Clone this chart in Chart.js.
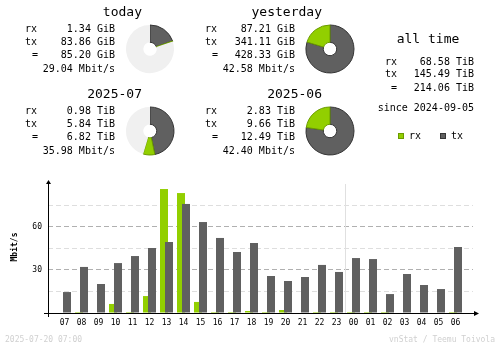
<!DOCTYPE html>
<html>
<head>
<meta charset="utf-8">
<script src="https://cdn.jsdelivr.net/npm/chart.js@4.4.0/dist/chart.umd.min.js"></script>
<style>
  body { margin: 0; background: #fff; }
  #wrap { position: relative; width: 500px; height: 348px; overflow: hidden;
          font-family: "DejaVu Sans Mono", monospace; color: #000; }
  #hourly { position: absolute; left: 0; top: 0; }
  .t { position: absolute; white-space: pre; font-size: 10px; line-height: 12px; height: 12px; }
  .title { font-size: 13px; line-height: 16px; height: 16px; }
  .foot { font-size: 8px; line-height: 10px; height: 10px; color: #d0d0d0; }
  .pie { position: absolute; }
  .key { position: absolute; width: 4px; height: 4px; border: 1px solid; }
</style>
</head>
<body>
<div id="wrap">
  <canvas id="hourly" width="500" height="348"></canvas>
</div>
<script>
const FONT = '"DejaVu Sans Mono", monospace';
const RX = '#92cf00', RX_DARK = '#6b9a00';
const TX = '#606060', TX_DARK = '#353535';

// summary periods
const periods = ['today', 'yesterday', '2025-07', '2025-06'];
const periodRx = [1.34, 87.21, 0.98, 2.83];
const periodTx = [83.86, 341.11, 5.84, 9.66];
const periodTotal = [85.20, 428.33, 6.82, 12.49];
const periodUnit = ['GiB', 'GiB', 'TiB', 'TiB'];
const periodRate = [29.04, 42.58, 35.98, 42.40];

// all time
const allTimeRx = 68.58;
const allTimeTx = 145.49;
const allTimeTotal = 214.06;
const allTimeSince = '2024-09-05';

// hourly average rate, Mbit/s
const hours = ['07', '08', '09', '10', '11', '12', '13', '14', '15', '16', '17', '18',
               '19', '20', '21', '22', '23', '00', '01', '02', '03', '04', '05', '06'];
const rxRate = [0, 0.7, 0, 6.3, 0.7, 11.8, 86.4, 83.6, 7.7, 0.7, 0.7, 1.4,
                0.7, 2.1, 0, 0.7, 0.7, 0.7, 0.7, 0.7, 0, 0, 0, 0.7];
const txRate = [14.6, 32.1, 20.2, 34.8, 39.7, 45.3, 49.5, 76.0, 63.4, 52.3, 42.5, 48.8,
                25.8, 22.3, 25.1, 33.5, 28.6, 38.3, 37.6, 13.2, 27.2, 19.5, 16.7, 46.0];

const footLeft = '2025-07-20 07:00';
const footRight = 'vnStat / Teemu Toivola';

const wrap = document.getElementById('wrap');

function put(text, x, y, cls, align) {
  const el = document.createElement('div');
  el.className = 't ' + (cls || '');
  el.textContent = text;
  const h = cls && cls.includes('title') ? 16 : (cls && cls.includes('foot') ? 10 : 12);
  el.style.top = (y - h / 2) + 'px';
  if (align === 'right') {
    el.style.right = (500 - x) + 'px';
  } else if (align === 'center') {
    el.style.left = (x - 100) + 'px';
    el.style.width = '200px';
    el.style.textAlign = 'center';
  } else {
    el.style.left = x + 'px';
  }
  wrap.appendChild(el);
}

function pie(cx, cy, tx, rx, rest) {
  const c = document.createElement('canvas');
  c.className = 'pie';
  c.width = 50; c.height = 50;
  c.style.left = (cx - 25) + 'px';
  c.style.top = (cy - 25) + 'px';
  wrap.appendChild(c);
  new Chart(c, {
    type: 'doughnut',
    data: {
      labels: ['tx', 'rx', ''],
      datasets: [{
        data: [tx, rx, rest],
        backgroundColor: [TX, RX, '#f0f0f0'],
        borderColor: [TX_DARK, RX_DARK, '#f0f0f0'],
        borderWidth: [1, 1, 0]
      }]
    },
    options: {
      responsive: false,
      animation: false,
      events: [],
      radius: 24,
      cutout: '28%',
      plugins: { legend: { display: false }, tooltip: { enabled: false } }
    }
  });
}

/* ---------- summary blocks ---------- */
periods.forEach((name, i) => {
  const dx = (i % 2) * 180;
  const dy = Math.floor(i / 2) * 82;
  const u = periodUnit[i];
  put(name, 142 + dx, 12 + dy, 'title', 'right');
  put('rx', 25 + dx, 29 + dy);
  put(periodRx[i].toFixed(2) + ' ' + u, 115 + dx, 29 + dy, '', 'right');
  put('tx', 25 + dx, 41.5 + dy);
  put(periodTx[i].toFixed(2) + ' ' + u, 115 + dx, 41.5 + dy, '', 'right');
  put('=', 32 + dx, 55 + dy);
  put(periodTotal[i].toFixed(2) + ' ' + u, 115 + dx, 55 + dy, '', 'right');
  put(periodRate[i].toFixed(2) + ' Mbit/s', 115 + dx, 69 + dy, '', 'right');

  // each pie is filled relative to the bigger of its pair
  const other = i % 2 === 0 ? i + 1 : i - 1;
  const max = Math.max(periodTotal[i], periodTotal[other]);
  pie(150 + dx, 49 + dy, periodTx[i], periodRx[i], max - periodTotal[i]);
});

put('all time', 428, 39, 'title', 'center');
put('rx', 385, 62);
put(allTimeRx.toFixed(2) + ' TiB', 474, 62, '', 'right');
put('tx', 385, 73.5);
put(allTimeTx.toFixed(2) + ' TiB', 474, 73.5, '', 'right');
put('=', 391, 87.5);
put(allTimeTotal.toFixed(2) + ' TiB', 474, 87.5, '', 'right');
put('since ' + allTimeSince, 474, 107.5, '', 'right');

[[398, RX, RX_DARK, 'rx'], [440, TX, TX_DARK, 'tx']].forEach(([x, fill, edge, label]) => {
  const k = document.createElement('div');
  k.className = 'key';
  k.style.left = x + 'px';
  k.style.top = '133px';
  k.style.background = fill;
  k.style.borderColor = edge;
  wrap.appendChild(k);
  put(label, x + 11, 136);
});

put(footLeft, 5, 340, 'foot');
put(footRight, 495, 340, 'foot', 'right');

/* ---------- hourly bars ---------- */
const dayStart = hours.indexOf('00');

const hourlyDecor = {
  id: 'hourlyDecor',
  beforeDatasetsDraw(chart) {
    const { ctx, chartArea: a, scales: { x } } = chart;
    // day change marker
    const sx = Math.round(x.getPixelForValue(dayStart - 0.5)) + 0.5;
    ctx.save();
    ctx.strokeStyle = '#e0e0e0';
    ctx.lineWidth = 1;
    ctx.beginPath();
    ctx.moveTo(sx, a.top + 3);
    ctx.lineTo(sx, a.bottom);
    ctx.stroke();
    ctx.restore();
    // tx bars go over rx bars
    chart.getSortedVisibleDatasetMetas().forEach(m => m.controller.draw());
    return false;
  },
  afterDraw(chart) {
    const { ctx, chartArea: a } = chart;
    const ax = a.left + 0.5, ay = a.bottom + 0.5;
    ctx.save();
    ctx.strokeStyle = '#000';
    ctx.fillStyle = '#000';
    ctx.lineWidth = 1;
    ctx.beginPath();
    ctx.moveTo(ax, a.top + 2);
    ctx.lineTo(ax, a.bottom + 4);
    ctx.moveTo(a.left - 4, ay);
    ctx.lineTo(a.right + 2, ay);
    ctx.stroke();
    ctx.beginPath();
    ctx.moveTo(ax, a.top - 1);
    ctx.lineTo(ax - 2.5, a.top + 3);
    ctx.lineTo(ax + 2.5, a.top + 3);
    ctx.fill();
    ctx.beginPath();
    ctx.moveTo(a.right + 6, ay);
    ctx.lineTo(a.right + 1, ay - 2.5);
    ctx.lineTo(a.right + 1, ay + 2.5);
    ctx.fill();
    ctx.restore();
  }
};

const xMin = -16.5 / 17;
const xMax = xMin + 425 / 17;

new Chart(document.getElementById('hourly'), {
  type: 'bar',
  data: {
    datasets: [
      { label: 'rx', data: rxRate.map((v, i) => ({ x: i, y: v })), backgroundColor: RX },
      { label: 'tx', data: txRate.map((v, i) => ({ x: i, y: v })), backgroundColor: TX }
    ]
  },
  options: {
    responsive: false,
    animation: false,
    events: [],
    categoryPercentage: 10 / 17,
    barPercentage: 1.6,
    layout: { padding: { top: 181, right: 27, left: 0, bottom: 0 } },
    plugins: { legend: { display: false }, tooltip: { enabled: false } },
    scales: {
      x: {
        type: 'linear',
        offset: false,
        min: xMin,
        max: xMax,
        grid: { display: false },
        border: { display: false },
        afterBuildTicks(s) { s.ticks = hours.map((h, i) => ({ value: i })); },
        afterFit(s) { s.height = 35; },
        ticks: {
          callback: v => hours[v],
          font: { family: FONT, size: 8 },
          color: '#000',
          padding: -3,
          maxRotation: 0,
          autoSkip: false
        }
      },
      y: {
        min: 0,
        max: 92,
        afterFit(s) { s.width = 48; },
        grid: {
          drawTicks: false,
          color: c => (c.tick.value === 0 || c.tick.value > 80) ? 'rgba(0,0,0,0)'
            : (c.tick.value % 30 === 0 ? '#b0b0b0' : '#dedede')
        },
        border: { display: false, dash: [5, 3] },
        ticks: {
          stepSize: 15,
          callback: v => (v % 30 === 0 && v > 0 && v < 90) ? v : '',
          font: { family: FONT, size: 8 },
          color: '#000',
          padding: 6
        },
        title: {
          display: true,
          text: 'Mbit/s',
          color: '#000',
          font: { family: FONT, size: 8, weight: 'bold' },
          padding: { top: 10 }
        }
      }
    }
  },
  plugins: [hourlyDecor]
});
</script>
</body>
</html>
